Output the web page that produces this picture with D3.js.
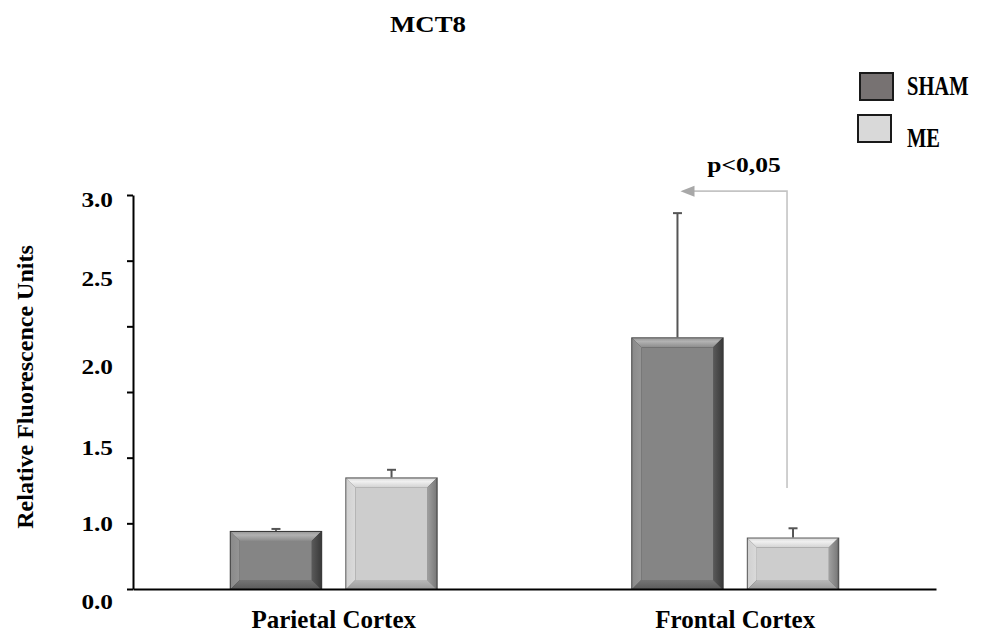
<!DOCTYPE html>
<html>
<head>
<meta charset="utf-8">
<script src="https://cdn.jsdelivr.net/npm/d3@7"></script>
<style>
    body { margin: 0; background: #fff; }
    svg text { font-family: "Liberation Serif", "Times New Roman", serif; font-weight: bold; fill: #000; }
</style>
</head>
<body>
<svg id="chart" width="987" height="641"></svg>
<script>

var categories = ["Parietal Cortex", "Frontal Cortex"];
var series = ["SHAM", "ME"];
var shamMean = [0.88, 2.16];
var shamErr = [0.03, 0.75];
var meMean = [1.30, 0.78];
var meErr = [0.05, 0.14];
var yTickLabels = [0, 1.0, 1.5, 2.0, 2.5, 3.0];
var yMarkCount = 7;
var sigNote = { category: "Frontal Cortex", from: "ME", to: "SHAM", low: 1.23, high: 3.05, label: "p<0,05" };
var chartTitle = "MCT8";
var yTitle = "Relative Fluorescence Units";

var svg = d3.select("#chart");

var plotLeft = 133, plotRight = 936, base = 589, plotTop = 195;

// the printed labels are not evenly spaced, so the value scale is piecewise
var y = d3.scaleLinear()
    .domain(yTickLabels)
    .range([base, 523, 447, 365.5, 277.5, 199]);

// tick marks on the axis are evenly spaced
var yMarks = d3.scaleLinear()
    .domain([0, yMarkCount - 1])
    .range([base, plotTop]);

var x0 = d3.scaleBand().domain(categories).range([plotLeft, plotRight]);
var x1 = d3.scaleBand()
    .domain(series)
    .range([x0.bandwidth() / 2 - 104, x0.bandwidth() / 2 + 104])
    .paddingInner(0.2);

var styles = {
    SHAM: { face: "#858585", top: ["#9a9a9a", "#b2b2b2", "#8c8c8c"], left: ["#8a8a8a", "#959595"], right: ["#5a5a5a", "#3c3c3c"], bottom: ["#747474", "#5c5c5c"], edge: "#3a3a3a", legend: "#777272" },
    ME:   { face: "#cdcdcd", top: ["#dcdcdc", "#f0f0f0", "#d2d2d2"], left: ["#d0d0d0", "#dadada"], right: ["#a0a0a0", "#7a7a7a"], bottom: ["#b8b8b8", "#9c9c9c"], edge: "#555555", legend: "#d9d9d9" }
};

// gradients for the bevel sides
var defs = svg.append("defs");
series.forEach(function (k) {
    var s = styles[k];
    var gt = defs.append("linearGradient").attr("id", "top-" + k).attr("x1", 0).attr("y1", 0).attr("x2", 0).attr("y2", 1);
    gt.append("stop").attr("offset", "0%").attr("stop-color", s.top[0]);
    gt.append("stop").attr("offset", "35%").attr("stop-color", s.top[1]);
    gt.append("stop").attr("offset", "100%").attr("stop-color", s.top[2]);
    var gl = defs.append("linearGradient").attr("id", "left-" + k).attr("x1", 0).attr("y1", 0).attr("x2", 1).attr("y2", 0);
    gl.append("stop").attr("offset", "0%").attr("stop-color", s.left[0]);
    gl.append("stop").attr("offset", "100%").attr("stop-color", s.left[1]);
    var gr = defs.append("linearGradient").attr("id", "right-" + k).attr("x1", 0).attr("y1", 0).attr("x2", 1).attr("y2", 0);
    gr.append("stop").attr("offset", "0%").attr("stop-color", s.right[0]);
    gr.append("stop").attr("offset", "100%").attr("stop-color", s.right[1]);
    var gb = defs.append("linearGradient").attr("id", "bottom-" + k).attr("x1", 0).attr("y1", 0).attr("x2", 0).attr("y2", 1);
    gb.append("stop").attr("offset", "0%").attr("stop-color", s.bottom[0]);
    gb.append("stop").attr("offset", "100%").attr("stop-color", s.bottom[1]);
});

var bars = [];
categories.forEach(function (c, i) {
    bars.push({ category: c, series: "SHAM", mean: shamMean[i], err: shamErr[i] });
    bars.push({ category: c, series: "ME", mean: meMean[i], err: meErr[i] });
});

// title
svg.append("text")
    .attr("transform", "translate(428,32) scale(1.22,1.05)")
    .attr("text-anchor", "middle")
    .attr("font-size", "22px")
    .text(chartTitle);

// y title
svg.append("text")
    .attr("transform", "translate(33,387) rotate(-90)")
    .attr("text-anchor", "middle")
    .attr("font-size", "24px")
    .text(yTitle);

// y axis: marks
var markAxis = d3.axisLeft(yMarks)
    .tickValues(d3.range(yMarkCount))
    .tickFormat("")
    .tickSize(6)
    .tickSizeOuter(0);

var gMarks = svg.append("g")
    .attr("transform", "translate(" + plotLeft + ",0)")
    .call(markAxis);
gMarks.select(".domain").attr("stroke", "#000").attr("stroke-width", 2);
gMarks.selectAll(".tick line").attr("stroke", "#000").attr("stroke-width", 2);

// y axis: labels
var labelAxis = d3.axisLeft(y)
    .tickValues(yTickLabels)
    .tickFormat(d3.format(".1f"))
    .tickSize(0);

var gLabels = svg.append("g")
    .attr("transform", "translate(" + plotLeft + ",0)")
    .call(labelAxis);
gLabels.select(".domain").remove();
gLabels.selectAll(".tick text")
    .attr("x", null)
    .attr("dy", null)
    .attr("font-size", "22px")
    .attr("font-family", null)
    .attr("fill", null)
    .attr("transform", function (d) {
        var off = d === 0 ? 11.5 : 0;
        return "translate(-20," + (off + 7.5) + ") scale(1.15,1)";
    });

// bars with bevel
var b = 9;
var gBars = svg.append("g");
bars.forEach(function (d) {
    var s = styles[d.series];
    var k = d.series;
    var x = x0(d.category) + x1(d.series);
    var w = x1.bandwidth();
    var yt = y(d.mean), yb = y(0);
    var g = gBars.append("g");
    g.append("rect").attr("x", x).attr("y", yt).attr("width", w).attr("height", yb - yt).attr("fill", s.edge);
    var x2 = x + w, xi = x + 1, xo = x2 - 1.5, yi = yt + 1;
    g.append("polygon").attr("fill", "url(#top-" + k + ")")
        .attr("points", [[xi, yi], [xo, yi], [xo - b, yi + b], [xi + b, yi + b]].join(" "));
    g.append("polygon").attr("fill", "url(#left-" + k + ")")
        .attr("points", [[xi, yi], [xi + b, yi + b], [xi + b, yb - b], [xi, yb]].join(" "));
    g.append("polygon").attr("fill", "url(#right-" + k + ")")
        .attr("points", [[xo, yi], [xo, yb], [xo - b, yb - b], [xo - b, yi + b]].join(" "));
    g.append("polygon").attr("fill", "url(#bottom-" + k + ")")
        .attr("points", [[xi, yb], [xi + b, yb - b], [xo - b, yb - b], [xo, yb]].join(" "));
    g.append("rect").attr("x", xi + b).attr("y", yi + b)
        .attr("width", xo - xi - 2 * b).attr("height", Math.max(0, yb - yt - 2 * b - 1))
        .attr("fill", s.face);

    // error bar (upper only)
    var cx = x + w / 2;
    g.append("line")
        .attr("x1", cx).attr("x2", cx)
        .attr("y1", yt).attr("y2", y(d.mean + d.err))
        .attr("stroke", "#555").attr("stroke-width", 2);
    g.append("line")
        .attr("x1", cx - 4.5).attr("x2", cx + 4.5)
        .attr("y1", y(d.mean + d.err)).attr("y2", y(d.mean + d.err))
        .attr("stroke", "#555").attr("stroke-width", 2);
});

// x axis
var xAxis = d3.axisBottom(x0).tickSize(0).tickPadding(21).tickSizeOuter(0);
var gx = svg.append("g")
    .attr("transform", "translate(0," + base + ")")
    .call(xAxis);
gx.select(".domain").attr("stroke", "#000").attr("stroke-width", 2);
gx.selectAll(".tick text")
    .attr("font-size", "25px")
    .attr("font-family", null)
    .attr("fill", null);

// significance arrow
var vx = x0(sigNote.category) + x1(sigNote.from) + x1.bandwidth() / 2 - 6;
var tipX = x0(sigNote.category) + x1(sigNote.to) + x1.bandwidth() / 2 + 3;
var hy = y(sigNote.high);
svg.append("polyline")
    .attr("points", [[vx, y(sigNote.low)], [vx, hy], [tipX + 12, hy]].join(" "))
    .attr("fill", "none")
    .attr("stroke", "#c4c4c4")
    .attr("stroke-width", 1.6);
svg.append("polygon")
    .attr("points", [[tipX, hy], [tipX + 14, hy - 5.5], [tipX + 14, hy + 5.5]].join(" "))
    .attr("fill", "#a8a8a8");
svg.append("text")
    .attr("transform", "translate(" + (vx - 43) + "," + (hy - 19) + ") scale(1.16,1)")
    .attr("text-anchor", "middle")
    .attr("font-size", "22px")
    .text(sigNote.label);

// legend
var legend = svg.append("g")
    .selectAll("g")
    .data(series)
    .enter()
    .append("g")
    .attr("transform", function (d, i) { return "translate(" + (860 - i * 2) + "," + (73 + i * 42) + ")"; });

legend.append("rect")
    .attr("width", 33)
    .attr("height", 27)
    .attr("fill", function (d) { return styles[d].legend; })
    .attr("stroke", "#1a1a1a")
    .attr("stroke-width", 2);

legend.append("text")
    .attr("font-size", "20.5px")
    .attr("transform", function (d, i) { return "translate(" + (47 + i * 2) + "," + (22 + i * 10) + ") scale(1,1.35)"; })
    .text(function (d) { return d; });

</script>
</body>
</html>
